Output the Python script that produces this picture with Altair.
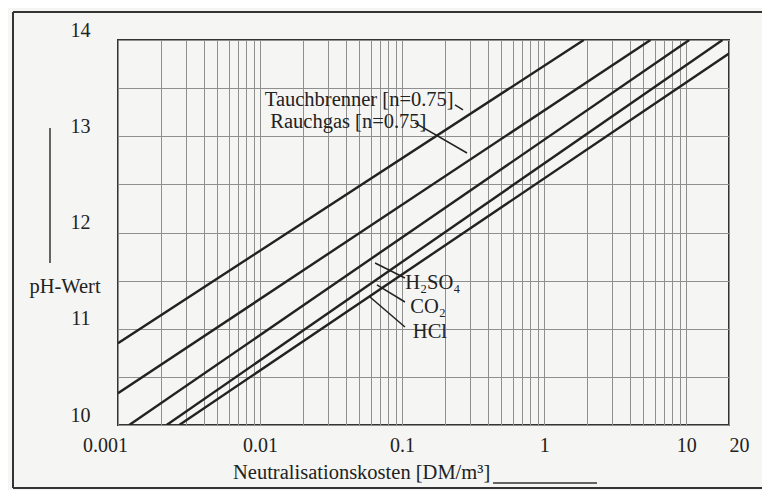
import altair as alt
import pandas as pd

# ---- data ----
series_names = ["Tauchbrenner", "Rauchgas", "H2SO4", "CO2", "HCl"]
tauch_x = [0.001, 1.9]
tauch_y = [10.85, 14.0]
rauch_x = [0.001, 5.6]
rauch_y = [10.33, 14.0]
h2so4_x = [0.0012, 10.5]
h2so4_y = [10.0, 14.0]
co2_x = [0.0022, 18.0]
co2_y = [10.0, 14.0]
hcl_x = [0.0027, 20.0]
hcl_y = [10.0, 13.86]

x_tick_labels = ["0.001", "0.01", "0.1", "1", "10", "20"]
y_tick_values = [10, 11, 12, 13, 14]

label_texts = ["Tauchbrenner [n=0.75]", "Rauchgas [n=0.75]", "H₂SO₄", "CO₂", "HCl"]
label_x = [0.0108, 0.0118, 0.105, 0.114, 0.119]
label_y = [13.38, 13.15, 11.475, 11.226, 10.966]

leader_x1 = [0.2356, 0.1232, 0.0645, 0.0665, 0.0594]
leader_y1 = [13.325, 13.138, 11.683, 11.455, 11.330]
leader_x2 = [0.2683, 0.2862, 0.1047, 0.1047, 0.1047]
leader_y2 = [13.273, 12.826, 11.527, 11.278, 11.018]

# ---- tables ----
rows = []
for name, xs, ys in zip(series_names,
                        [tauch_x, rauch_x, h2so4_x, co2_x, hcl_x],
                        [tauch_y, rauch_y, h2so4_y, co2_y, hcl_y]):
    for xv, yv in zip(xs, ys):
        rows.append({"series": name, "x": xv, "pH": yv})
lines_df = pd.DataFrame(rows)
labels_df = pd.DataFrame({"text": label_texts, "x": label_x, "pH": label_y})
leaders_df = pd.DataFrame({"x": leader_x1, "pH": leader_y1, "x2": leader_x2, "pH2": leader_y2})

x_grid = [m * 10.0 ** e for e in range(-3, 2) for m in range(1, 10)] + [20.0]
y_grid = [10 + 0.5 * i for i in range(9)]

INK = "#222222"
FONT = "Liberation Serif"

xscale = alt.Scale(type="log", domain=[0.001, 20], nice=False)
yscale = alt.Scale(domain=[10, 14], nice=False, zero=False)

label_list = "[" + ",".join("'" + t + "'" for t in x_tick_labels) + "]"
xaxis = alt.Axis(
    values=x_grid, format="~g", title=None, grid=True, ticks=False, domain=False,
    labelExpr=f"indexof({label_list}, datum.label) >= 0 ? datum.label : ''",
    labelOverlap=False, labelFlush=False, labelPadding=10,
    labelOffset={"condition": {"test": "datum.value < 0.0015", "value": -13}, "value": 0},
    labelAlign={"condition": {"test": "datum.value > 15", "value": "left"}, "value": "center"},
)
yint = "[" + ",".join(str(v) for v in y_tick_values) + "]"
yaxis = alt.Axis(
    values=y_grid, title=None, grid=True, ticks=False, domain=False,
    labelExpr=f"indexof({yint}, datum.value) >= 0 ? format(datum.value, 'd') : ''",
    labelOverlap=False, labelFlush=False, labelPadding=28, labelOffset=-10,
)

X = alt.X("x:Q", scale=xscale, axis=xaxis)
Y = alt.Y("pH:Q", scale=yscale, axis=yaxis)

lines = alt.Chart(lines_df).mark_line(color=INK, strokeWidth=2.4, clip=True).encode(
    x=X, y=Y, detail="series:N"
)

labels = alt.Chart(labels_df).mark_text(
    align="left", baseline="middle", font=FONT, fontSize=20.5, color=INK
).encode(x=X, y=Y, text="text:N")

leaders = alt.Chart(leaders_df).mark_rule(color=INK, strokeWidth=1.5).encode(
    x=X, y=Y, x2="x2:Q", y2="pH2:Q"
)

one = pd.DataFrame({"a": [0]})
deco_color = "#333333"
frame_left = alt.Chart(one).mark_rule(color=deco_color, strokeWidth=2).encode(
    x=alt.value(-105), y=alt.value(-28), y2=alt.value(448))
frame_top = alt.Chart(one).mark_rule(color=deco_color, strokeWidth=2).encode(
    x=alt.value(-105), x2=alt.value(644), y=alt.value(-28))
frame_bottom = alt.Chart(one).mark_rule(color=deco_color, strokeWidth=2).encode(
    x=alt.value(-105), x2=alt.value(644), y=alt.value(448))
y_arrow = alt.Chart(one).mark_rule(color=deco_color, strokeWidth=1.5).encode(
    x=alt.value(-68), y=alt.value(88), y2=alt.value(223))
x_arrow = alt.Chart(one).mark_rule(color=deco_color, strokeWidth=1.5).encode(
    x=alt.value(375), x2=alt.value(479), y=alt.value(443))

x_title = alt.Chart(one).mark_text(
    align="left", baseline="middle", font=FONT, fontSize=20.5, color=INK,
    text="Neutralisationskosten [DM/m³]"
).encode(x=alt.value(115), y=alt.value(433))
y_title = alt.Chart(one).mark_text(
    align="center", baseline="middle", font=FONT, fontSize=20.5, color=INK,
    text="pH-Wert"
).encode(x=alt.value(-53), y=alt.value(247))

chart = alt.layer(
    lines, leaders, labels, frame_left, frame_top, frame_bottom, y_arrow, x_arrow, x_title, y_title
).properties(
    width=611, height=385,
    autosize=alt.AutoSizeParams(type="none"),
    padding={"left": 110, "top": 32, "right": 33, "bottom": 65},
    background="#f5f5f3",
).configure_view(
    stroke="#333333", strokeWidth=2
).configure_axis(
    labelFont=FONT, labelFontSize=20, labelColor=INK,
    gridColor="#8f8f8f", gridWidth=1, gridOpacity=1,
)

chart.save("out.html", embed_options={"renderer": "svg", "actions": False})
